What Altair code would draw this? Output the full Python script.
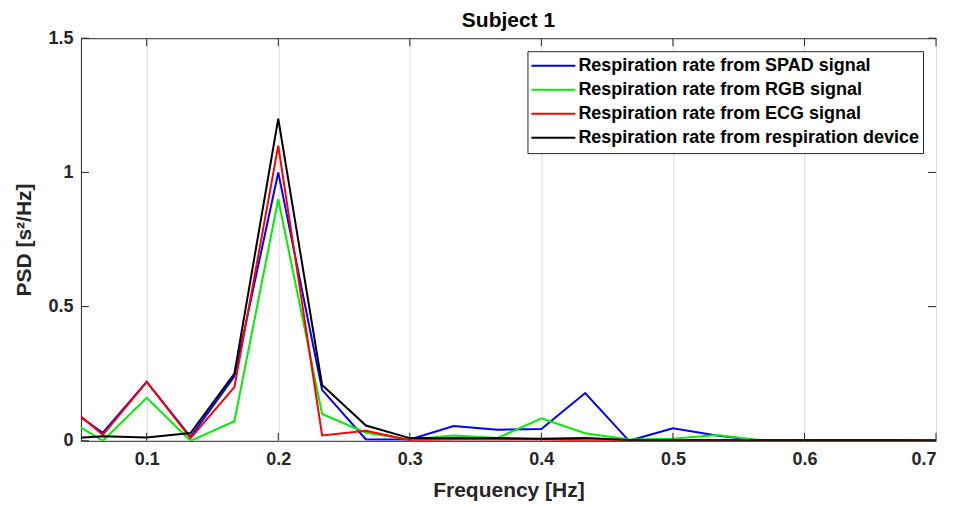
import altair as alt
import pandas as pd

freq_k = list(range(1, 22))  # frequency = k/30 Hz
spad = [0.144, 0.03, 0.22, 0.015, 0.24, 1.0, 0.19, 0.005, 0.005, 0.055, 0.041, 0.044, 0.178, 0.0, 0.047, 0.02, 0.0, 0.001, 0.001, 0.001, 0.001]
rgb = [0.1, 0.0, 0.16, 0.0, 0.073, 0.9, 0.1, 0.03, 0.005, 0.02, 0.01, 0.084, 0.028, 0.005, 0.008, 0.022, 0.002, 0.001, 0.001, 0.001, 0.001]
ecg = [0.16, 0.022, 0.22, 0.01, 0.2, 1.1, 0.02, 0.037, 0.002, 0.005, 0.005, 0.005, 0.002, 0.001, 0.002, 0.002, 0.001, 0.001, 0.001, 0.001, 0.001]
device = [0.006, 0.017, 0.012, 0.029, 0.25, 1.2, 0.208, 0.057, 0.01, 0.01, 0.01, 0.008, 0.01, 0.003, 0.003, 0.002, 0.002, 0.002, 0.002, 0.002, 0.001]

series_names = [
    "Respiration rate from SPAD signal",
    "Respiration rate from RGB signal",
    "Respiration rate from ECG signal",
    "Respiration rate from respiration device",
]
series_colors = ["#0000ff", "#00ee00", "#ff0000", "#000000"]
x_ticks = [0.1, 0.2, 0.3, 0.4, 0.5, 0.6, 0.7]
y_ticks = [0, 0.5, 1, 1.5]

rows = []
for order, (name, vals) in enumerate(zip(series_names, [spad, rgb, ecg, device])):
    for k, v in zip(freq_k, vals):
        rows.append({"freq": k / 30, "psd": v, "series": name, "order": order})
df = pd.DataFrame(rows)

W, H = 856, 403
FONT = "Liberation Sans"
TXT = "#262626"

xscale = alt.Scale(domain=[0.05, 0.7], nice=False, zero=False)
yscale = alt.Scale(domain=[0, 1.5], nice=False)

lines = alt.Chart(df).mark_line(strokeWidth=2, clip=True).encode(
    x=alt.X("freq:Q", scale=xscale, title="Frequency [Hz]",
            axis=alt.Axis(values=x_ticks, format=".1f", grid=True, gridColor="#dcdcdc",
                          ticks=False, domain=False, labelPadding=10, titlePadding=11)),
    y=alt.Y("psd:Q", scale=yscale, title="PSD [s²/Hz]",
            axis=alt.Axis(values=y_ticks, format="~g", grid=False, ticks=False, domain=False,
                          labelPadding=8, titlePadding=13)),
    color=alt.Color("series:N", scale=alt.Scale(domain=series_names, range=series_colors),
                    sort=series_names,
                    legend=alt.Legend(title=None, orient="top-right", offset=13,
                                      symbolType="stroke", symbolSize=1936, symbolStrokeWidth=2,
                                      labelFontSize=18, labelFontWeight="bold", labelFont=FONT,
                                      labelColor="#000000", labelOffset=2, rowPadding=0,
                                      clipHeight=23.3,
                                      strokeColor="#262626", fillColor="white", padding=3,
                                      labelLimit=500)),
    order="order:Q",
    detail="series:N",
)

xt = pd.DataFrame({"v": x_ticks})
yt = pd.DataFrame({"v": y_ticks})
tick_style = dict(color=TXT, strokeWidth=1)
bottom_ticks = alt.Chart(xt).mark_rule(**tick_style).encode(
    x=alt.X("v:Q", scale=xscale), y=alt.value(H), y2=alt.value(H - 8))
top_ticks = alt.Chart(xt).mark_rule(**tick_style).encode(
    x=alt.X("v:Q", scale=xscale), y=alt.value(0), y2=alt.value(8))
left_ticks = alt.Chart(yt).mark_rule(**tick_style).encode(
    y=alt.Y("v:Q", scale=yscale), x=alt.value(0), x2=alt.value(8))
right_ticks = alt.Chart(yt).mark_rule(**tick_style).encode(
    y=alt.Y("v:Q", scale=yscale), x=alt.value(W), x2=alt.value(W - 8))

chart = alt.layer(lines, bottom_ticks, top_ticks, left_ticks, right_ticks).properties(
    width=W, height=H,
    title=alt.TitleParams("Subject 1", fontSize=21, fontWeight="bold", font=FONT,
                          color="#000000", anchor="middle", offset=-2),
    autosize=alt.AutoSizeParams(type="none"),
    padding={"left": 73, "top": 30, "right": 10, "bottom": 60},
).configure_view(stroke=TXT, strokeWidth=1).configure_axis(
    labelFont=FONT, labelFontSize=18, labelFontWeight="bold", labelColor=TXT,
    titleFont=FONT, titleFontSize=21, titleFontWeight="bold", titleColor=TXT,
)

chart.save("out.html", embed_options={"renderer": "svg", "actions": False})
